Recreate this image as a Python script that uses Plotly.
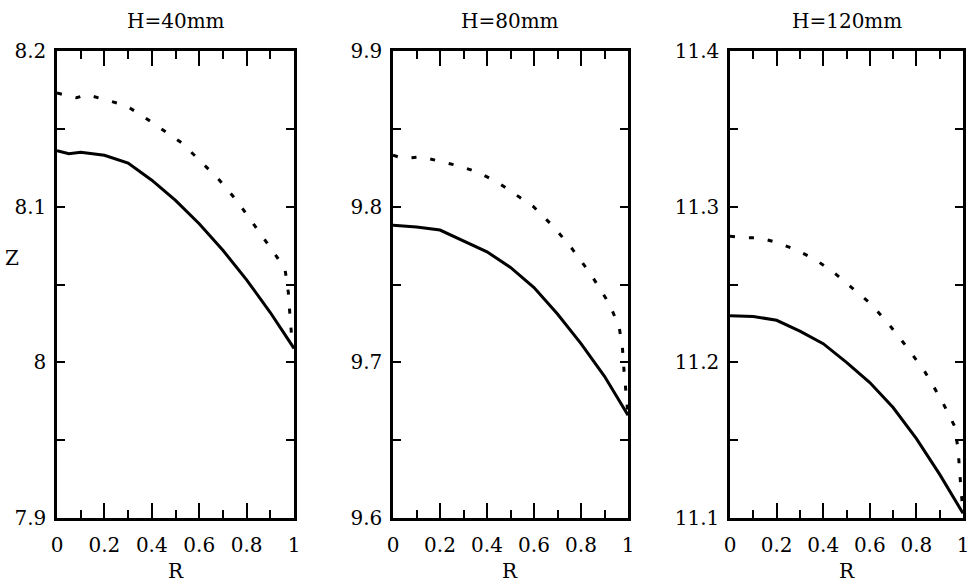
import plotly.graph_objects as go

# Panel titles and axis range per channel height
titles = ["H=40mm", "H=80mm", "H=120mm"]
y_ranges = [[7.9, 8.2], [9.6, 9.9], [11.1, 11.4]]

# H = 40 mm
r40_solid = [0, 0.05, 0.1, 0.2, 0.3, 0.4, 0.5, 0.6, 0.7, 0.8, 0.9, 1.0]
z40_solid = [8.136, 8.134, 8.135, 8.133, 8.128, 8.117, 8.104, 8.089, 8.072, 8.053, 8.032, 8.009]
r40_dot = [0, 0.083, 0.125, 0.2, 0.29, 0.364, 0.44, 0.526, 0.6, 0.68, 0.758, 0.835,
           0.913, 0.962, 0.976, 0.983, 0.99, 1.0]
z40_dot = [8.173, 8.170, 8.172, 8.169, 8.165, 8.158, 8.150, 8.141, 8.130, 8.118, 8.104, 8.088,
           8.071, 8.060, 8.045, 8.030, 8.017, 8.009]

# H = 80 mm
r80_solid = [0, 0.1, 0.2, 0.3, 0.4, 0.5, 0.6, 0.7, 0.8, 0.9, 1.0]
z80_solid = [9.788, 9.787, 9.785, 9.778, 9.771, 9.761, 9.748, 9.731, 9.712, 9.691, 9.666]
r80_dot = [0, 0.043, 0.121, 0.207, 0.285, 0.363, 0.442, 0.520, 0.598, 0.684, 0.762, 0.840,
           0.919, 0.962, 0.976, 0.983, 0.99, 0.995, 1.0]
z80_dot = [9.833, 9.831, 9.832, 9.829, 9.826, 9.822, 9.816, 9.808, 9.800, 9.787, 9.773, 9.757,
           9.738, 9.723, 9.710, 9.695, 9.683, 9.675, 9.666]

# H = 120 mm
r120_solid = [0, 0.1, 0.2, 0.3, 0.4, 0.5, 0.6, 0.7, 0.8, 0.9, 1.0]
z120_solid = [11.230, 11.2295, 11.227, 11.220, 11.212, 11.200, 11.187, 11.171, 11.151, 11.128, 11.103]
r120_dot = [0, 0.081, 0.124, 0.202, 0.288, 0.366, 0.444, 0.523, 0.601, 0.679, 0.758, 0.836,
            0.907, 0.964, 0.979, 0.986, 0.993, 1.0]
z120_dot = [11.281, 11.280, 11.280, 11.277, 11.272, 11.266, 11.258, 11.248, 11.238, 11.225,
            11.210, 11.194, 11.176, 11.159, 11.144, 11.129, 11.116, 11.103]

series = [
    (r40_solid, z40_solid, r40_dot, z40_dot),
    (r80_solid, z80_solid, r80_dot, z80_dot),
    (r120_solid, z120_solid, r120_dot, z120_dot),
]

W, H = 968, 588
SERIF = "DejaVu Serif"
TICK_FONT = dict(family=SERIF, size=20, color="black")
TEXT_FONT = dict(family=SERIF, size=20, color="black")

# pixel boxes of the three panels
x_px = [(57, 294), (393, 628), (730, 963)]
y_px = (51, 518)
y_dom = [1 - y_px[1] / H, 1 - y_px[0] / H]

fig = go.Figure()

for i, (rs, zs, rd, zd) in enumerate(series):
    sfx = "" if i == 0 else str(i + 1)
    fig.add_trace(go.Scatter(x=rs, y=zs, mode="lines", xaxis="x" + sfx, yaxis="y" + sfx,
                             line=dict(color="black", width=3), showlegend=False))
    fig.add_trace(go.Scatter(x=rd, y=zd, mode="lines", xaxis="x" + sfx, yaxis="y" + sfx,
                             line=dict(color="black", width=3, dash="5px,14px"),
                             showlegend=False))

    common = dict(showgrid=False, zeroline=False, showline=True, linecolor="black",
                  linewidth=2.5, mirror="allticks", ticks="inside", tickcolor="black",
                  tickwidth=2, automargin=False, ticklabeloverflow="allow",
                  tickfont=TICK_FONT)
    xa = dict(common, domain=[x_px[i][0] / W, x_px[i][1] / W], range=[0, 1],
              tickvals=[0, 0.2, 0.4, 0.6, 0.8, 1.0],
              ticktext=["0", "0.2", "0.4", "0.6", "0.8", "1"], ticklen=15,
              ticklabelstandoff=7,
              minor=dict(tickvals=[0.1, 0.3, 0.5, 0.7, 0.9], ticks="inside", ticklen=8,
                         tickwidth=2, tickcolor="black"),
              anchor="y" + sfx)
    lo, hi = y_ranges[i]
    majors = [round(lo + k * 0.1, 2) for k in range(4)]
    minors = [round(lo + 0.05 + k * 0.1, 2) for k in range(3)]
    ya = dict(common, domain=y_dom, range=[lo, hi], tickvals=majors,
              ticktext=[f"{v:g}" for v in majors], ticklen=8, ticklabelstandoff=4,
              minor=dict(tickvals=minors, ticks="inside", ticklen=8, tickwidth=2,
                         tickcolor="black"),
              anchor="x" + sfx)
    fig.update_layout(**{"xaxis" + sfx: xa, "yaxis" + sfx: ya})

    cx = (x_px[i][0] + x_px[i][1]) / 2 / W
    fig.add_annotation(text=titles[i], x=cx, y=1 - 21 / H, xref="paper", yref="paper",
                       xanchor="center", yanchor="middle", showarrow=False, font=TEXT_FONT)
    fig.add_annotation(text="R", x=cx, y=1 - 571 / H, xref="paper", yref="paper",
                       xanchor="center", yanchor="middle", showarrow=False, font=TEXT_FONT)

fig.add_annotation(text="Z", x=12 / W, y=1 - 258 / H, xref="paper", yref="paper",
                   xanchor="center", yanchor="middle", showarrow=False, font=TEXT_FONT)

fig.update_layout(template="none", width=W, height=H, margin=dict(l=0, r=0, t=0, b=0),
                  paper_bgcolor="white", plot_bgcolor="white")

fig.write_html("out.html")
